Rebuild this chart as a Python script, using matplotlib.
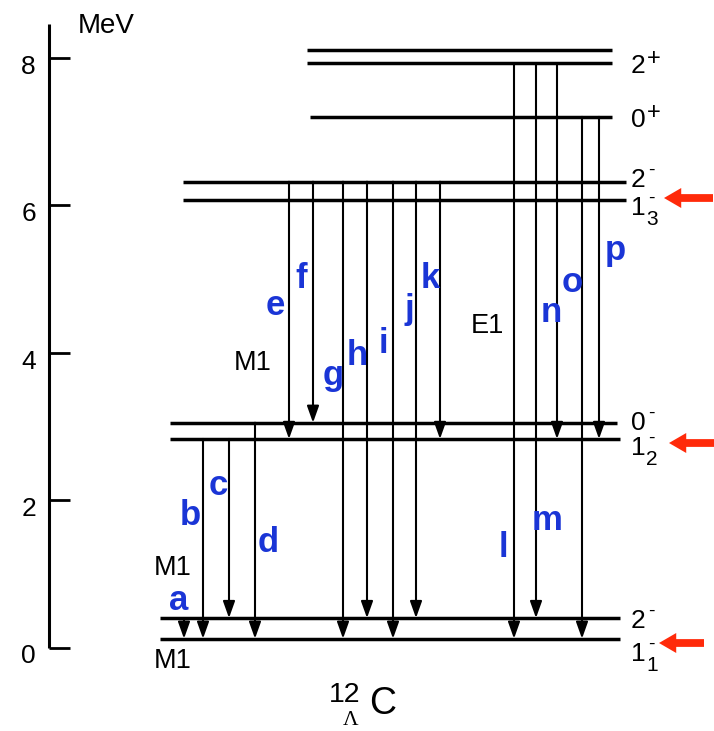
import matplotlib
matplotlib.use("Agg")
import matplotlib.pyplot as plt

plt.rcParams['font.family'] = ['Liberation Sans', 'DejaVu Sans']

# ---------------- data ----------------
level_names = ['1_1-', '2-low', '1_2-', '0-', '1_3-', '2-up', '0+', '2+', 'top']
level_energy = [0.12, 0.40, 2.83, 3.05, 6.07, 6.32, 7.20, 7.93, 8.11]   # MeV
level_spin = ['1', '2', '1', '0', '1', '2', '0', '2', '']
level_parity = ['-', '-', '-', '-', '-', '-', '+', '+', '']
level_index = ['1', '', '2', '', '3', '', '', '', '']

trans_labels = list('abcdefghijklmnop')
trans_from = ['2-low', '1_2-', '1_2-', '0-', '2-up', '2-up', '2-up', '2-up',
              '2-up', '2-up', '2-up', '2+', '2+', '2+', '0+', '0+']
trans_to = ['1_1-', '1_1-', '2-low', '1_1-', '1_2-', '0-', '1_1-', '2-low',
            '1_1-', '2-low', '1_2-', '1_1-', '2-low', '1_2-', '1_1-', '1_2-']

multipole_text = ['M1', 'M1', 'M1', 'E1']
yticks = [0, 2, 4, 6, 8]
ytick_labels = ['0', '2', '4', '6', '8']
marked_levels = ['1_3-', '1_2-', '1_1-']

# ---------------- layout (pixel based) ----------------
W, H = 714, 731
Y0, SC = 647.5, 73.7          # pixel row of 0 MeV, pixels per MeV


def E(ypix):
    return (Y0 - ypix) / SC


level_x = {'1_1-': (160, 620), '2-low': (160, 620), '1_2-': (170, 620),
           '0-': (170, 617), '1_3-': (183, 626), '2-up': (183, 626),
           '0+': (310, 612), '2+': (307, 612), 'top': (307, 612)}
level_label_base = {'1_1-': 661, '2-low': 628, '1_2-': 455, '0-': 430,
                    '1_3-': 215, '2-up': 187, '0+': 127, '2+': 73}
trans_x = [184, 203, 229, 255, 289, 313, 343, 367, 393, 416, 440,
           514, 536, 557, 582, 599]
trans_lab_pos = [(179, 610), (190, 525), (218, 495), (268, 552),
                 (275, 315), (301, 288), (333, 385), (357, 365),
                 (383, 353), (409, 319), (430, 288), (503, 557),
                 (547, 530), (551, 322), (572, 292), (615, 260)]
multipole_pos = [(173, 668), (173, 575), (253, 370), (487, 333)]
red_arrow_px = {'1_3-': (713, 664, 198), '1_2-': (714, 669, 443),
                '1_1-': (704, 659, 643)}

E_of = dict(zip(level_names, level_energy))

fig = plt.figure(figsize=(W / 100, H / 100), dpi=100)
ax = fig.add_axes([0, 0, 1, 1])
ax.set_xlim(0, W)
ax.set_ylim(E(H), E(0))
ax.axis('off')

# energy scale
ax.plot([49.3, 49.3], [0, E(24)], color='black', lw=2.2, solid_capstyle='butt')
for t, lab in zip(yticks, ytick_labels):
    ax.plot([49.3, 70], [t, t], color='black', lw=2.0, solid_capstyle='butt')
    ax.text(36, t - 0.12, lab, ha='right', va='center', fontsize=19)
ax.text(106, E(33), 'MeV', ha='center', va='baseline', fontsize=20)

# levels
for name, en, spin, par, idx in zip(level_names, level_energy, level_spin,
                                    level_parity, level_index):
    x0, x1 = level_x[name]
    ax.plot([x0, x1], [en, en], color='black', lw=2.5, solid_capstyle='butt')
    if not spin:
        continue
    base = (631, E(level_label_base[name]))
    ax.text(base[0], base[1], spin, ha='left', va='baseline', fontsize=19)
    if par == '+':
        ax.annotate('+', xy=base, xytext=(11.5, 6), textcoords='offset points',
                    ha='left', va='baseline', fontsize=17)
    else:
        ax.annotate('-', xy=base, xytext=(12.5, 9), textcoords='offset points',
                    ha='left', va='baseline', fontsize=14)
    if idx:
        ax.annotate(idx, xy=base, xytext=(11, -7.5), textcoords='offset points',
                    ha='left', va='baseline', fontsize=15)

# transitions
for lab, f, t, x, (lx, ly) in zip(trans_labels, trans_from, trans_to,
                                   trans_x, trans_lab_pos):
    ax.annotate('', xy=(x, E_of[t]), xytext=(x, E_of[f]),
                arrowprops=dict(arrowstyle='-|>,head_length=0.42,head_width=0.15',
                                lw=1.5, color='black', mutation_scale=24,
                                shrinkA=0, shrinkB=0))
    ax.text(lx, E(ly), lab, ha='center', va='baseline', fontsize=25,
            fontweight='bold', color='#1a35d6')

for txt, (mx, my) in zip(multipole_text, multipole_pos):
    ax.text(mx, E(my), txt, ha='center', va='baseline', fontsize=19.5)

# red markers
for name in marked_levels:
    xa, xb, yy = red_arrow_px[name]
    ax.annotate('', xy=(xb, E(yy)), xytext=(xa, E(yy)),
                arrowprops=dict(arrowstyle='simple,head_length=0.62,head_width=0.72,tail_width=0.28',
                                color='#ff2a0a', lw=0, mutation_scale=20,
                                shrinkA=0, shrinkB=0))

# nucleus label
ax.text(360, E(702), '12', ha='right', va='baseline', fontsize=20.5)
ax.text(351, E(725), 'Λ', ha='center', va='baseline', fontsize=15.5,
        family=['Liberation Serif', 'DejaVu Serif'])
ax.text(369, E(714), 'C', ha='left', va='baseline', fontsize=27)

fig.savefig('out.png', dpi=100)
